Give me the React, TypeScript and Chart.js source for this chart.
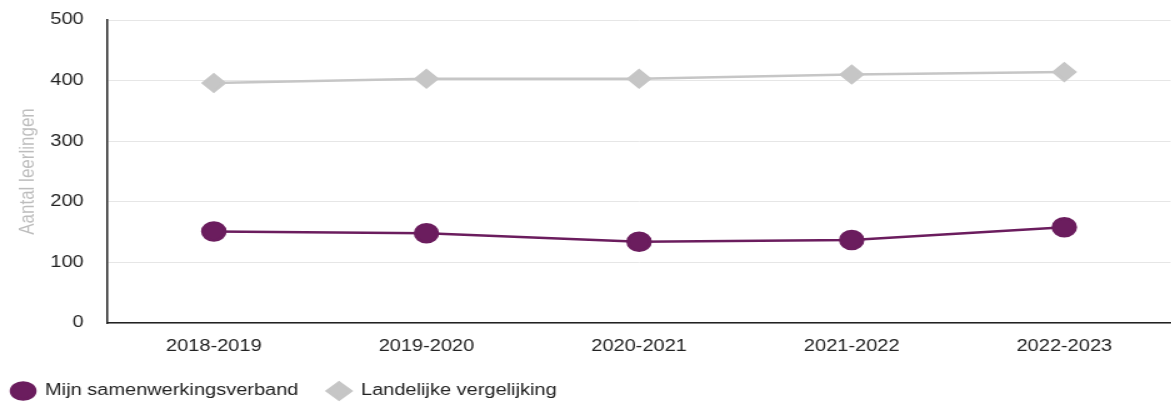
import React, { useEffect, useRef } from "react";
import { Chart, registerables } from "chart.js";

Chart.register(...registerables);

const categories = ["2018-2019", "2019-2020", "2020-2021", "2021-2022", "2022-2023"];
const mijnSamenwerkingsverband = [151, 148, 134, 137, 158];
const landelijkeVergelijking = [396, 403, 403, 410, 414];
const yTicks = [0, 100, 200, 300, 400, 500];

const FONT = '"Liberation Sans", Arial, sans-serif';
const PURPLE = "#6b1d5e";
const GRAY = "#c6c6c6";

export default function App() {
  const ref = useRef<HTMLCanvasElement | null>(null);

  useEffect(() => {
    document.body.style.margin = "0";
    const canvas = ref.current;
    if (!canvas) return;
    const chart = new Chart(canvas, {
      type: "line",
      data: {
        labels: categories,
        datasets: [
          {
            label: "Mijn samenwerkingsverband",
            data: mijnSamenwerkingsverband,
            borderColor: PURPLE,
            backgroundColor: PURPLE,
            pointBackgroundColor: PURPLE,
            pointBorderColor: PURPLE,
            pointStyle: "circle",
            pointRadius: 9,
            borderWidth: 2.5,
            tension: 0,
          },
          {
            label: "Landelijke vergelijking",
            data: landelijkeVergelijking,
            borderColor: GRAY,
            backgroundColor: GRAY,
            pointBackgroundColor: GRAY,
            pointBorderColor: GRAY,
            pointStyle: "rectRot",
            pointRadius: 8.5,
            borderWidth: 2.5,
            tension: 0,
          },
        ],
      },
      options: {
        animation: false,
        responsive: false,
        devicePixelRatio: 1,
        layout: { padding: { top: 20, left: -14, right: 0, bottom: -7 } },
        plugins: {
          tooltip: { enabled: false },
          legend: {
            position: "bottom",
            align: "start",
            labels: {
              usePointStyle: true,
              pointStyleWidth: 19,
              boxHeight: 12,
              padding: 23,
              color: "#222",
              font: { family: FONT, size: 16 },
            },
          },
        },
        scales: {
          x: {
            offset: true,
            grid: { display: false, drawTicks: false },
            border: { display: true, color: "#222", width: 1.5 },
            ticks: { color: "#222", font: { family: FONT, size: 16 }, padding: 14, maxRotation: 0 },
            afterFit: (s: any) => {
              s.height = 37;
            },
          },
          y: {
            min: 0,
            max: 500,
            afterBuildTicks: (s: any) => {
              s.ticks = yTicks.map((v) => ({ value: v }));
            },
            grid: {
              color: "#e6e6e6",
              lineWidth: 1,
              drawTicks: true,
              tickLength: 19,
              tickColor: "rgba(0,0,0,0)",
            },
            border: { display: true, color: "#222", width: 1.5 },
            ticks: { color: "#222", font: { family: FONT, size: 16 }, padding: 0 },
            title: {
              display: true,
              text: "Aantal leerlingen",
              color: "#bdbdbd",
              font: { family: FONT, size: 17 },
              padding: { top: 26, bottom: 0 },
            },
            afterFit: (s: any) => {
              s.width = 100;
            },
          },
        },
      },
    });
    return () => chart.destroy();
  }, []);

  return (
    <div style={{ width: 1171, height: 402, overflow: "hidden", position: "relative" }}>
      <div style={{ width: 948, height: 402, transform: "scaleX(1.25)", transformOrigin: "0 0" }}>
        <canvas ref={ref} width={948} height={402} style={{ display: "block" }} />
      </div>
    </div>
  );
}
